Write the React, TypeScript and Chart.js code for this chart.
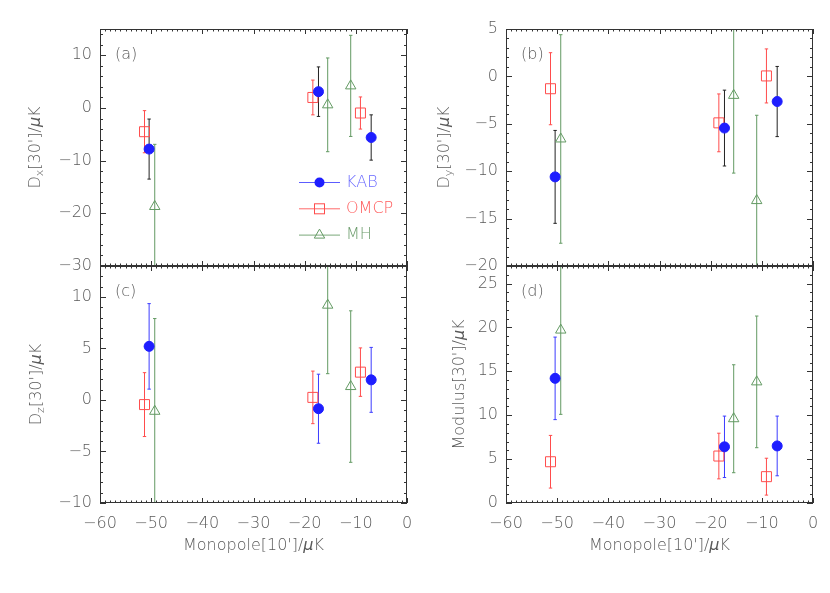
import React, { useEffect, useRef } from 'react';
import { Chart, registerables } from 'chart.js';
Chart.register(...registerables);

const W = 830;
const H = 593;
const FONT = 'DejaVu Sans';
const WEIGHT = 200;
const TEXT = '#5a5a5a';
const AXIS = '#333333';

// ---- data ----
const monoKAB = [-50.4, -17.3, -7.0];
const monoOMCP = [-51.3, -18.4, -9.1];
const monoMH = [-49.3, -15.5, -11.0];

const dxKAB = [-7.8, 3.1, -5.6];
const dxKABErr = [5.7, 4.7, 4.3];
const dxOMCP = [-4.5, 2.0, -0.95];
const dxOMCPErr = [4.0, 3.3, 3.05];
const dxMH = [-18.7, 0.6, 4.2];
const dxMHErr = [11.8, 8.9, 9.6];

const dyKAB = [-10.6, -5.45, -2.65];
const dyKABErr = [4.9, 4.0, 3.7];
const dyOMCP = [-1.3, -4.9, 0.05];
const dyOMCPErr = [3.8, 3.05, 2.85];
const dyMH = [-6.6, -2.0, -13.1];
const dyMHErr = [11.0, 8.2, 9.0];

const dzKAB = [5.2, -0.85, 1.95];
const dzKABErr = [4.15, 3.35, 3.15];
const dzOMCP = [-0.45, 0.25, 2.7];
const dzOMCPErr = [3.1, 2.55, 2.35];
const dzMH = [-1.1, 9.2, 1.3];
const dzMHErr = [9.0, 6.65, 7.35];

const modKAB = [14.2, 6.4, 6.5];
const modKABErr = [4.7, 3.5, 3.4];
const modOMCP = [4.7, 5.35, 3.0];
const modOMCPErr = [3.0, 2.6, 2.1];
const modMH = [19.7, 9.6, 13.8];
const modMHErr = [9.6, 6.15, 7.5];

const xTicks = [-60, -50, -40, -30, -20, -10, 0];
const yTicksA = [-30, -20, -10, 0, 10];
const yTicksB = [-20, -15, -10, -5, 0, 5];
const yTicksC = [-10, -5, 0, 5, 10];
const yTicksD = [0, 5, 10, 15, 20, 25];

const seriesNames = ['KAB', 'OMCP', 'MH'];

// ---- styles ----
const C_KAB = '#1e1eff';
const C_KAB_LIGHT = '#5c5cff';
const C_OMCP = '#ff4c4c';
const C_MH = '#639a63';

type Seg = { t: string; sub?: boolean; it?: boolean };
type PanelCfg = {
  tag: string;
  area: { left: number; top: number; right: number; bottom: number };
  yMin: number; yMax: number; yTicks: number[]; yMinor: number; yMajor: number;
  showX: boolean; title: Seg[]; titleX: number; kabBar: string; legend: boolean;
  kab: number[]; kabE: number[]; omcp: number[]; omcpE: number[]; mh: number[]; mhE: number[];
};

const yTitle = (letter: string | null, word?: string): Seg[] => {
  const segs: Seg[] = [];
  if (letter) { segs.push({ t: 'D' }); segs.push({ t: letter, sub: true }); }
  else segs.push({ t: word as string });
  segs.push({ t: "[30']/" }, { t: 'μ', it: true }, { t: 'K' });
  return segs;
};

const panels: PanelCfg[] = [
  { tag: '(a)', area: { left: 100, top: 29, right: 407, bottom: 266 }, yMin: -30, yMax: 15, yTicks: yTicksA, yMinor: 2, yMajor: 10,
    showX: false, title: yTitle('x'), titleX: 36, kabBar: '#222222', legend: true,
    kab: dxKAB, kabE: dxKABErr, omcp: dxOMCP, omcpE: dxOMCPErr, mh: dxMH, mhE: dxMHErr },
  { tag: '(b)', area: { left: 506, top: 29, right: 813, bottom: 266 }, yMin: -20, yMax: 5, yTicks: yTicksB, yMinor: 1, yMajor: 5,
    showX: false, title: yTitle('y'), titleX: 445, kabBar: '#222222', legend: false,
    kab: dyKAB, kabE: dyKABErr, omcp: dyOMCP, omcpE: dyOMCPErr, mh: dyMH, mhE: dyMHErr },
  { tag: '(c)', area: { left: 100, top: 266, right: 407, bottom: 503 }, yMin: -10, yMax: 13, yTicks: yTicksC, yMinor: 1, yMajor: 5,
    showX: true, title: yTitle('z'), titleX: 37, kabBar: '#3c3cff', legend: false,
    kab: dzKAB, kabE: dzKABErr, omcp: dzOMCP, omcpE: dzOMCPErr, mh: dzMH, mhE: dzMHErr },
  { tag: '(d)', area: { left: 506, top: 266, right: 813, bottom: 503 }, yMin: 0, yMax: 27, yTicks: yTicksD, yMinor: 1, yMajor: 5,
    showX: true, title: yTitle(null, 'Modulus'), titleX: 460, kabBar: '#3c3cff', legend: false,
    kab: modKAB, kabE: modKABErr, omcp: modOMCP, omcpE: modOMCPErr, mh: modMH, mhE: modMHErr },
];

const fmt = (v: number) => (v < 0 ? '\u2212' + Math.abs(v) : String(v));

const errData = (xs: number[], ys: number[], es: number[]) => {
  const out: { x: number; y: number }[] = [];
  xs.forEach((x, i) => {
    out.push({ x, y: ys[i] - es[i] }, { x, y: ys[i] + es[i] }, { x, y: NaN });
  });
  return out;
};
const ptData = (xs: number[], ys: number[]) => xs.map((x, i) => ({ x, y: ys[i] }));

function drawSegs(ctx: CanvasRenderingContext2D, segs: Seg[], size: number) {
  const fontOf = (s: Seg) => `${s.it ? 'italic ' : ''}${WEIGHT} ${s.sub ? Math.round(size * 0.68) : size}px "${FONT}"`;
  let total = 0;
  const widths = segs.map((s) => { ctx.font = fontOf(s); const w = ctx.measureText(s.t).width; total += w; return w; });
  let x = -total / 2;
  ctx.textAlign = 'left';
  ctx.textBaseline = 'middle';
  segs.forEach((s, i) => {
    ctx.font = fontOf(s);
    ctx.fillText(s.t, x, s.sub ? size * 0.28 : 0);
    x += widths[i];
  });
}

function drawMarker(ctx: CanvasRenderingContext2D, kind: string, x: number, y: number, color: string) {
  ctx.beginPath();
  if (kind === 'circle') {
    ctx.arc(x, y, 5, 0, Math.PI * 2);
    ctx.fillStyle = color; ctx.fill();
  } else if (kind === 'rect') {
    ctx.strokeStyle = color; ctx.strokeRect(x - 5, y - 5, 10, 10);
  } else {
    ctx.moveTo(x, y - 6); ctx.lineTo(x + 5.2, y + 3); ctx.lineTo(x - 5.2, y + 3); ctx.closePath();
    ctx.strokeStyle = color; ctx.stroke();
  }
}

function framePlugin(cfg: PanelCfg) {
  return {
    id: 'frame' + cfg.tag,
    afterDraw(chart: any) {
      const { ctx, chartArea: a, scales } = chart;
      const xs = scales.x;
      const ys = scales.y;
      ctx.save();
      ctx.strokeStyle = AXIS;
      ctx.lineWidth = 1;
      ctx.strokeRect(a.left + 0.5, a.top + 0.5, a.right - a.left - 1, a.bottom - a.top - 1);
      ctx.beginPath();
      for (let v = xs.min; v <= xs.max + 1e-9; v += 1) {
        const px = Math.round(xs.getPixelForValue(v)) + 0.5;
        const len = Math.abs(v % 10) < 1e-9 ? 5 : 2.5;
        ctx.moveTo(px, a.bottom); ctx.lineTo(px, a.bottom - len);
        ctx.moveTo(px, a.top); ctx.lineTo(px, a.top + len);
      }
      for (let v = cfg.yMin; v <= cfg.yMax + 1e-9; v += cfg.yMinor) {
        const py = Math.round(ys.getPixelForValue(v)) + 0.5;
        const len = Math.abs(v % cfg.yMajor) < 1e-9 ? 6 : 3;
        ctx.moveTo(a.left, py); ctx.lineTo(a.left + len, py);
        ctx.moveTo(a.right, py); ctx.lineTo(a.right - len, py);
      }
      ctx.stroke();

      ctx.fillStyle = TEXT;
      ctx.font = `${WEIGHT} 16px "${FONT}"`;
      ctx.textAlign = 'left';
      ctx.textBaseline = 'middle';
      ctx.fillText(cfg.tag, a.left + 15, a.top + 26);

      ctx.save();
      ctx.translate(cfg.titleX, (a.top + a.bottom) / 2);
      ctx.rotate(-Math.PI / 2);
      drawSegs(ctx, cfg.title, 16);
      ctx.restore();

      if (cfg.showX) {
        ctx.save();
        ctx.translate((a.left + a.right) / 2, 546);
        drawSegs(ctx, [{ t: "Monopole[10']/" }, { t: 'μ', it: true }, { t: 'K' }], 16);
        ctx.restore();
      }

      if (cfg.legend) {
        const rows = [
          { name: seriesNames[0], kind: 'circle', line: C_KAB_LIGHT, mark: C_KAB, text: '#6a6aff' },
          { name: seriesNames[1], kind: 'rect', line: '#ff6a6a', mark: C_OMCP, text: '#ff5a5a' },
          { name: seriesNames[2], kind: 'tri', line: '#7aa87a', mark: C_MH, text: '#6c9c6c' },
        ];
        rows.forEach((r, i) => {
          const y = 182.5 + i * 26.3;
          ctx.beginPath();
          ctx.strokeStyle = r.line;
          ctx.moveTo(299, y); ctx.lineTo(340, y); ctx.stroke();
          drawMarker(ctx, r.kind, 319.5, y, r.mark);
          ctx.fillStyle = r.text;
          ctx.font = `${WEIGHT} 16px "${FONT}"`;
          ctx.textAlign = 'left';
          ctx.textBaseline = 'middle';
          ctx.fillText(r.name, 346, y);
        });
      }
      ctx.restore();
    },
  };
}

function PanelChart({ cfg }: { cfg: PanelCfg }) {
  const ref = useRef<HTMLCanvasElement | null>(null);
  useEffect(() => {
    if (!ref.current) return;
    const bar = (data: any, color: string, order: number) => ({
      type: 'line', data, showLine: true, spanGaps: false, borderColor: color, borderWidth: 1,
      pointStyle: 'line', pointRadius: 1.7, pointHoverRadius: 1.7, pointBorderColor: color, pointBorderWidth: 1,
      backgroundColor: color, order,
    });
    const xH = 60;
    const tickFont = { family: FONT, size: 16, weight: WEIGHT };
    const chart = new Chart(ref.current, {
      type: 'scatter',
      data: {
        datasets: [
          { label: seriesNames[0], data: ptData(monoKAB, cfg.kab), pointStyle: 'circle', pointRadius: 5, pointHoverRadius: 5,
            backgroundColor: C_KAB, borderColor: C_KAB, pointBorderWidth: 1, order: 0 } as any,
          { label: seriesNames[1], data: ptData(monoOMCP, cfg.omcp), pointStyle: 'rect', pointRadius: 7.07, pointHoverRadius: 7.07,
            backgroundColor: 'rgba(0,0,0,0)', borderColor: C_OMCP, pointBorderWidth: 1, order: 1 } as any,
          { label: seriesNames[2], data: ptData(monoMH, cfg.mh), pointStyle: 'triangle', pointRadius: 6, pointHoverRadius: 6,
            backgroundColor: 'rgba(0,0,0,0)', borderColor: C_MH, pointBorderWidth: 1, order: 2 } as any,
          bar(errData(monoKAB, cfg.kab, cfg.kabE), cfg.kabBar, 3) as any,
          bar(errData(monoOMCP, cfg.omcp, cfg.omcpE), C_OMCP, 4) as any,
          bar(errData(monoMH, cfg.mh, cfg.mhE), C_MH, 5) as any,
        ],
      },
      options: {
        animation: false,
        responsive: false,
        events: [],
        layout: {
          autoPadding: false,
          padding: {
            left: 0,
            top: cfg.area.top,
            right: W - cfg.area.right,
            bottom: cfg.showX ? H - cfg.area.bottom - xH : H - cfg.area.bottom,
          },
        },
        plugins: { legend: { display: false }, tooltip: { enabled: false } },
        scales: {
          x: {
            type: 'linear', min: -60, max: 0, display: cfg.showX,
            afterBuildTicks: (s: any) => { s.ticks = xTicks.map((v) => ({ value: v })); },
            afterFit: (s: any) => { s.height = cfg.showX ? xH : 0; },
            grid: { display: false, drawTicks: false },
            border: { display: false },
            ticks: { callback: (v: any) => fmt(Number(v)), color: TEXT, font: tickFont, padding: 11, maxRotation: 0, autoSkip: false },
          },
          y: {
            type: 'linear', min: cfg.yMin, max: cfg.yMax,
            afterBuildTicks: (s: any) => { s.ticks = cfg.yTicks.map((v) => ({ value: v })); },
            afterFit: (s: any) => { s.width = cfg.area.left; },
            grid: { display: false, drawTicks: false },
            border: { display: false },
            ticks: { callback: (v: any) => fmt(Number(v)), color: TEXT, font: tickFont, padding: 8, autoSkip: false },
          },
        },
      } as any,
      plugins: [framePlugin(cfg)],
    } as any);
    return () => chart.destroy();
  }, [cfg]);
  return <canvas ref={ref} width={W} height={H} style={{ position: 'absolute', left: 0, top: 0, width: W, height: H }} />;
}

export default function App() {
  return (
    <div style={{ position: 'absolute', left: 0, top: 0, width: W, height: H, background: '#ffffff' }}>
      {panels.map((p) => (
        <PanelChart key={p.tag} cfg={p} />
      ))}
    </div>
  );
}
